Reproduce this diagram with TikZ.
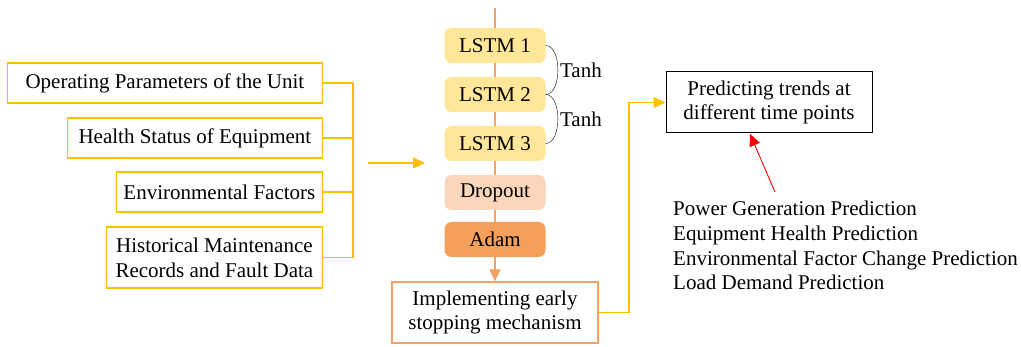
\documentclass[tikz,border=0pt]{standalone}
\usepackage{fontspec}
\setmainfont{Liberation Serif}
\usetikzlibrary{positioning, arrows.meta}
\definecolor{gold}{HTML}{FFC000}
\definecolor{peach}{HTML}{F4A263}
\definecolor{lstmfill}{HTML}{FFE699}
\definecolor{dropfill}{HTML}{FBD6BA}
\definecolor{adamfill}{HTML}{F4A05A}

\begin{document}
\begin{tikzpicture}[x=1pt, y=-1pt, font=\fontsize{21}{24.7}\selectfont,
   inbox/.style={draw=gold, line width=1.2pt, minimum height=40pt, inner xsep=2pt, align=center},
   layer/.style={rounded corners=7pt, minimum width=101pt, minimum height=35pt, inner sep=0pt},
   outbox/.style={minimum width=206pt, minimum height=61pt, align=center, inner sep=0pt},
   tip/.style={-{Triangle[length=12pt, width=11pt]}},
   node distance=49pt, on grid]
   \useasboundingbox (0,0) rectangle (1021,347);

   % input features
   \node[inbox, anchor=east, minimum width=315pt] (op)  at (323,83)  {Operating Parameters of the Unit};
   \node[inbox, anchor=east, minimum width=255pt] (hs)  at (323,138) {Health Status of Equipment};
   \node[inbox, anchor=east, minimum width=206pt] (env) at (323,192) {Environmental Factors};
   \node[inbox, anchor=east, minimum width=216pt, minimum height=61pt] (hist) at (323,257.5)
        {Historical Maintenance\\Records and Fault Data};

   \coordinate (bus) at (353,0);
   \draw[gold, line width=1.2pt] (op.east) -- (op.east -| bus) -- (hist.east -| bus) -- (hist.east);
   \draw[gold, line width=1.2pt] (hs.east) -- (hs.east -| bus);
   \draw[gold, line width=1.2pt] (env.east) -- (env.east -| bus);

   \coordinate (in_s) at (368,163);
   \coordinate (in_e) at (425,163);
   \draw[gold, line width=1.2pt, tip] (in_s) -- (in_e);

   % network stack
   \coordinate (top) at (495,8);
   \node[layer, fill=lstmfill] (l_1) at (495,45.5) {LSTM 1};
   \node[layer, fill=lstmfill] (l_2) [below=of l_1] {LSTM 2};
   \node[layer, fill=lstmfill] (l_3) [below=of l_2] {LSTM 3};
   \node[layer, fill=dropfill] (drop) [below=of l_3] {Dropout};
   \node[layer, fill=adamfill] (adam) [below=47pt of drop] {Adam};

   \draw[peach, line width=1.5pt] (top) -- (l_1) (l_1) -- (l_2) (l_2) -- (l_3)
        (l_3) -- (drop) (drop) -- (adam);

   \draw (l_1.east) to[out=0, in=0, looseness=0.85] node[right, inner sep=2pt] {Tanh} (l_2.east);
   \draw (l_2.east) to[out=0, in=0, looseness=0.85] node[right, inner sep=2pt] {Tanh} (l_3.east);

   % outputs
   \node[outbox, draw=peach, line width=1.2pt] (stop) at (495,312.5)
        {Implementing early\\stopping mechanism};
   \draw[peach, line width=1.5pt, tip] (adam) -- (stop);

   \node[outbox, draw, line width=1pt] (pred) at (769,102.5)
        {Predicting trends at\\different time points};
   \coordinate (turn) at (629,0);
   \draw[gold, line width=1.2pt, tip] (stop.east) -- (stop.east -| turn) |- (pred.west);

   \node[anchor=west, align=left, inner sep=0pt] (tasks) at (673,245.5)
        {Power Generation Prediction\\Equipment Health Prediction\\
         Environmental Factor Change Prediction\\Load Demand Prediction};
   \coordinate (red_s) at (775,192);
   \coordinate (red_e) at (750,134);
   \draw[red, line width=0.9pt, tip] (red_s) -- (red_e);
\end{tikzpicture}
\end{document}
